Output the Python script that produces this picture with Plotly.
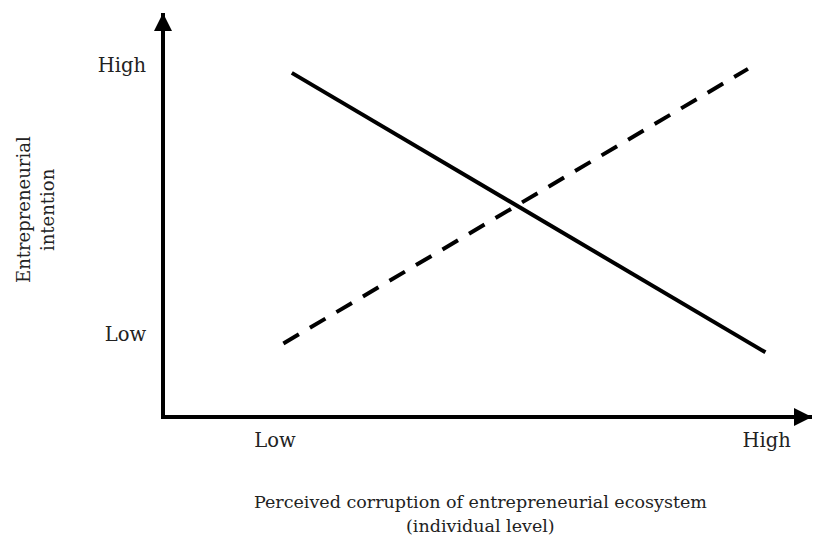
import plotly.graph_objects as go

# Data (conceptual 0-100 scale on both axes)
x_tick_vals = [17, 93]
x_tick_text = ["Low", "High"]
y_tick_vals = [20, 87]
y_tick_text = ["Low", "High"]

solid_x = [19.6, 92.8]
solid_y = [85.1, 15.6]
dashed_x = [18.3, 90.1]
dashed_y = [17.8, 86.1]

x_title_lines = ["Perceived corruption of entrepreneurial ecosystem", "(individual level)"]
y_title_lines = ["Entrepreneurial", "intention"]

FONT = "DejaVu Serif"
W, H = 813, 540
L, R, T, B = 165, 1, 13, 125
PW, PH = W - L - R, H - T - B


def px_x(p):
    return (p - L) / PW


def px_y(p):
    return (H - B - p) / PH


fig = go.Figure()
fig.add_trace(go.Scatter(x=solid_x, y=solid_y, mode="lines",
                         line=dict(color="black", width=4), showlegend=False))
fig.add_trace(go.Scatter(x=dashed_x, y=dashed_y, mode="lines",
                         line=dict(color="black", width=4, dash="18px,12.8px"), showlegend=False))

ann = [
    dict(xref="paper", yref="paper", x=0, y=1, ax=0, ay=30, text="", xshift=-2,
         showarrow=True, arrowhead=2, arrowsize=0.9, arrowwidth=4, arrowcolor="black"),
    dict(xref="paper", yref="paper", x=1, y=0, ax=-30, ay=0, text="", yshift=-2,
         showarrow=True, arrowhead=2, arrowsize=0.9, arrowwidth=4, arrowcolor="black"),
]
for t, yp in zip(x_title_lines, [502, 526]):
    ann.append(dict(xref="paper", yref="paper", x=px_x(480), y=px_y(yp), text=t,
                    showarrow=False, xanchor="center", yanchor="middle",
                    font=dict(family=FONT, size=17.5, color="#222")))
for t, xp in zip(y_title_lines, [23, 47]):
    ann.append(dict(xref="paper", yref="paper", x=px_x(xp), y=px_y(210), text=t,
                    showarrow=False, xanchor="center", yanchor="middle", textangle=-90,
                    font=dict(family=FONT, size=18, color="#222")))

fig.update_layout(
    width=W, height=H,
    margin=dict(l=L, r=R, t=T, b=B, pad=0),
    plot_bgcolor="white", paper_bgcolor="white",
    font=dict(family=FONT, size=19.5, color="#222"),
    xaxis=dict(range=[0, 100], tickvals=x_tick_vals, ticktext=x_tick_text,
               showgrid=False, zeroline=False, showline=True, linecolor="black",
               linewidth=4, ticks="", ticklabelstandoff=5, fixedrange=True,
               automargin=False),
    yaxis=dict(range=[0, 100], tickvals=y_tick_vals, ticktext=y_tick_text,
               showgrid=False, zeroline=False, showline=True, linecolor="black",
               linewidth=4, ticks="", ticklabelstandoff=11, fixedrange=True,
               automargin=False),
    annotations=ann,
)

fig.write_html("out.html", config={"displayModeBar": False},
               post_script="document.body.style.margin='0';document.body.style.padding='0';")
